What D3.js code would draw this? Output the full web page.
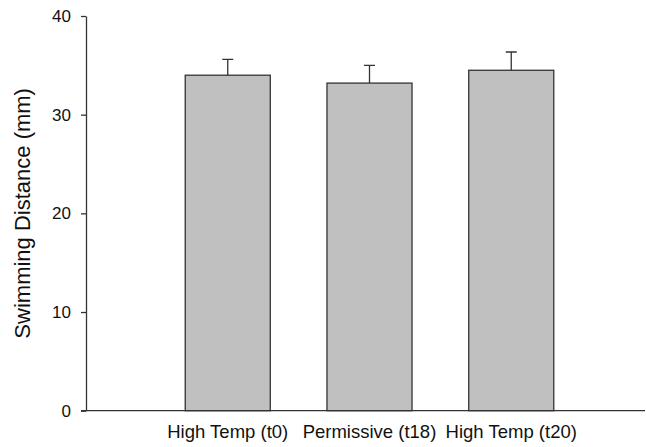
<!DOCTYPE html>
<html>
<head>
<meta charset="utf-8">
<script src="https://cdn.jsdelivr.net/npm/d3@7"></script>
<style>
  body { margin: 0; background: #fff; }
  text { font-family: Arial, "Liberation Sans", sans-serif; }
</style>
</head>
<body>
<div class="first"></div>
<script>
// values
var categories = ["High Temp (t0)", "Permissive (t18)", "High Temp (t20)"];
var means = [34.0, 33.2, 34.5];
var errors = [1.6, 1.8, 1.85];
var yTicks = [0, 10, 20, 30, 40];

const w = 646;
const h = 447;
const m = {top: 16, left: 86, right: 1, bottom: 36};

var data = categories.map(function(c, i) {
    return {name: c, mean: means[i], err: errors[i]};
});

var svg = d3.select('.first')
            .append('svg')
            .attr('width', w)
            .attr('height', h);

var y = d3.scaleLinear()
          .domain([0, 40])
          .range([h - m.bottom - 0.3, m.top]);

// first slot on the left is left empty in the original plot
var step = 141.75;
var x = d3.scaleBand()
          .domain(categories)
          .range([m.left + step / 2, m.left + 3.5 * step])
          .paddingInner(0.4)
          .paddingOuter(0.2);

// bars
svg.selectAll('.bar')
    .data(data)
    .enter()
    .append('rect')
    .attr('class', 'bar')
    .attr('x', d => x(d.name))
    .attr('y', d => y(d.mean))
    .attr('width', x.bandwidth())
    .attr('height', d => y(0) - y(d.mean))
    .attr('fill', '#c0c0c0')
    .attr('stroke', '#333')
    .attr('stroke-width', 1.3);

// error bars (upper only)
var cap = 11;
svg.selectAll('.err')
    .data(data)
    .enter()
    .append('path')
    .attr('class', 'err')
    .attr('d', function(d) {
        var cx = x(d.name) + x.bandwidth() / 2;
        return 'M' + cx + ',' + y(d.mean) + 'V' + y(d.mean + d.err) +
               'M' + (cx - cap / 2) + ',' + y(d.mean + d.err) + 'H' + (cx + cap / 2);
    })
    .attr('fill', 'none')
    .attr('stroke', '#333')
    .attr('stroke-width', 1.3);

// y axis
var yAxis = svg.append('g')
    .attr('transform', 'translate(' + m.left + ',0)')
    .call(d3.axisLeft(y).tickValues(yTicks).tickSize(5).tickSizeOuter(0).tickPadding(10));
yAxis.selectAll('path, line').attr('stroke', '#333').attr('stroke-width', 1.3);
yAxis.selectAll('text').attr('font-size', 17).attr('fill', '#111')
     .style('font-family', 'Arial, "Liberation Sans", sans-serif');

// x axis line
svg.append('line')
    .attr('x1', m.left - 5)
    .attr('x2', w - m.right)
    .attr('y1', y(0))
    .attr('y2', y(0))
    .attr('stroke', '#333')
    .attr('stroke-width', 1.3);

// category labels
svg.selectAll('.xlabel')
    .data(categories)
    .enter()
    .append('text')
    .attr('class', 'xlabel')
    .attr('x', d => x(d) + x.bandwidth() / 2)
    .attr('y', 438)
    .attr('text-anchor', 'middle')
    .attr('font-size', 18.5)
    .attr('fill', '#111')
    .text(d => d);

// y title
svg.append('text')
    .attr('transform', 'translate(30,' + ((y(0) + y(40)) / 2) + ') rotate(-90)')
    .attr('text-anchor', 'middle')
    .attr('font-size', 22)
    .attr('fill', '#111')
    .text('Swimming Distance (mm)');
</script>
</body>
</html>
